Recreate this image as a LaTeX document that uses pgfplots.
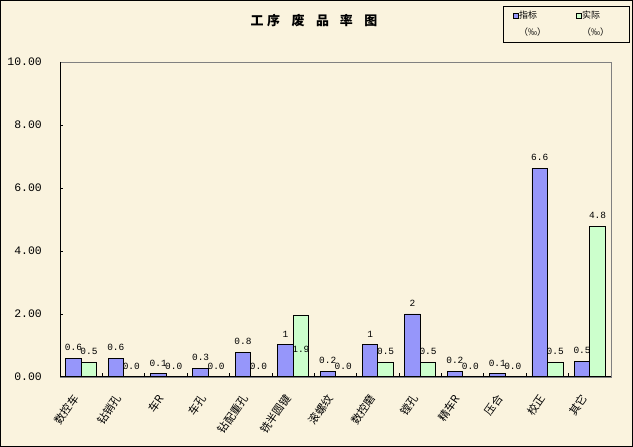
\documentclass[border=0pt]{standalone}
\usepackage{fontspec}
\setmainfont{Liberation Sans}
\setmonofont{Liberation Mono}
\newfontfamily\cjk{Noto Sans CJK SC}
\usepackage{pgfplots}
\pgfplotsset{compat=1.18}
\definecolor{bg}{RGB}{250,243,222}
\definecolor{barblue}{RGB}{150,150,250}
\definecolor{bargreen}{RGB}{204,255,204}
\definecolor{axgray}{RGB}{128,128,128}
\begin{document}
\begin{tikzpicture}
\useasboundingbox (0,0) rectangle (633bp,447bp);
\fill[bg] (0,0) rectangle (633bp,447bp);
\draw[black, line width=1bp] (0.5bp,0.5bp) rectangle (632.5bp,446.5bp);
\begin{axis}[
  at={(60bp,70bp)}, anchor=south west,
  scale only axis, width=551bp, height=315bp,
  ybar=0pt, bar width=15.5bp,
  xmin=-0.5, xmax=12.5, ymin=0, ymax=10,
  axis line style={draw=axgray, line width=0.8bp},
  xtick={0,...,12},
  xticklabels={数控车,钻销孔,车R,车孔,钻配重孔,铣半圆键,滚螺纹,数控磨,镗孔,精车R,压合,校正,其它},
  minor xtick={0.5,1.5,...,11.5},
  every major x tick/.append style={draw=none},
  minor tick length=4bp,
  major tick length=3bp,
  tick style={black, line width=0.8bp},
  tick align=inside, tick pos=left,
  ytick={0,2,...,10},
  /pgf/number format/assume math mode=true,
  yticklabel style={/pgf/number format/fixed, /pgf/number format/fixed zerofill, /pgf/number format/precision=2,
    font=\ttfamily\fontsize{11.5}{12}\selectfont, inner sep=0pt, xshift=-18bp},
  xticklabel style={font=\cjk\fontsize{11}{12}\selectfont, inner sep=0pt, xshift=-5bp, yshift=-19bp, rotate=55, anchor=east},
  nodes near coords, point meta=explicit symbolic,
  nodes near coords style={font=\ttfamily\fontsize{9.5}{10}\selectfont, anchor=south, inner sep=0pt, yshift=7bp},
  title={工\hspace{3.5bp}序\hspace{11.5bp}废\hspace{11.5bp}品\hspace{11bp}率\hspace{11.5bp}图},
  title style={at={(axis description cs:0.461,1.114)}, anchor=center, inner sep=0pt, font=\cjk\bfseries\fontsize{13}{14}\selectfont},
]
\addplot[fill=barblue, draw=black, line width=0.8bp]
coordinates {(0,0.6) [0.6] (1,0.6) [0.6] (2,0.1) [0.1] (3,0.28) [0.3] (4,0.78) [0.8] (5,1.02) [1] (6,0.19) [0.2]
 (7,1.02) [1] (8,2.0) [2] (9,0.18) [0.2] (10,0.1) [0.1] (11,6.62) [6.6] (12,0.5) [0.5]};
\addplot[fill=bargreen, draw=black, line width=0.8bp]
coordinates {(0,0.47) [0.5] (1,0) [0.0] (2,0) [0.0] (3,0) [0.0] (4,0) [0.0] (5,1.94) [\relax] (6,0) [0.0]
 (7,0.47) [0.5] (8,0.47) [0.5] (9,0) [0.0] (10,0) [0.0] (11,0.47) [0.5] (12,4.79) [4.8]};
\node[font=\ttfamily\fontsize{9.5}{10}\selectfont, inner sep=0pt, xshift=7.75bp] at (axis cs:5,0.89) {1.9};
\draw[black, line width=1.2bp] (rel axis cs:0,1) -- (rel axis cs:0,0) -- (rel axis cs:1,0);
\end{axis}
% legend
\draw[black, line width=0.8bp] (503bp,405bp) rectangle (629bp,441bp);
\draw[fill=barblue, line width=0.6bp] (513bp,429bp) rectangle (518bp,434bp);
\draw[fill=bargreen, line width=0.6bp] (576bp,429bp) rectangle (581bp,434bp);
\begin{scope}[every node/.style={anchor=west, inner sep=0pt, font=\cjk\fontsize{9}{10}\selectfont}]
\node at (519bp,432bp) {指标};
\node at (519bp,415bp) {（‰）};
\node at (582bp,432bp) {实际};
\node at (582bp,415bp) {（‰）};
\end{scope}
\end{tikzpicture}
\end{document}
